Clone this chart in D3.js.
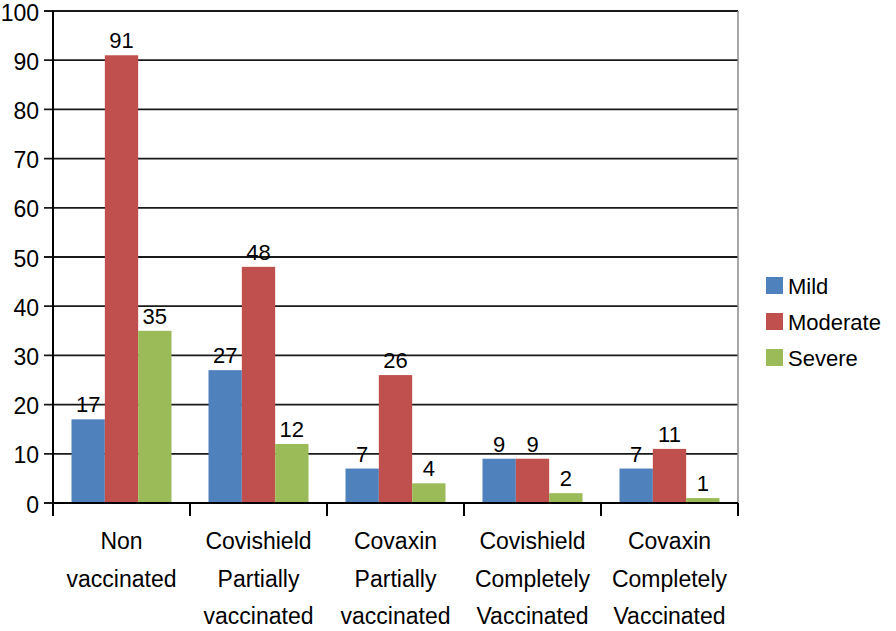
<!DOCTYPE html>
<html><head><meta charset="utf-8">
<script src="https://cdn.jsdelivr.net/npm/d3@7/dist/d3.min.js"></script>
<style>body{margin:0;background:#fff}svg{display:block}text{font-family:"Liberation Sans",Arial,sans-serif;fill:#000}</style>
</head><body><svg id="c" width="896" height="631"></svg>
<script>
const categories = [["Non","vaccinated"],["Covishield","Partially","vaccinated"],["Covaxin","Partially","vaccinated"],["Covishield","Completely","Vaccinated"],["Covaxin","Completely","Vaccinated"]];
const seriesNames = ["Mild","Moderate","Severe"];
const mild = [17,27,7,9,7];
const moderate = [91,48,26,9,11];
const severe = [35,12,4,2,1];
const colors = ["#4F81BD","#C0504D","#9BBB59"];
const yTicks = [0,10,20,30,40,50,60,70,80,90,100];

const svg = d3.select("#c");
const L = 53, R = 738, T = 11, B = 503;
const x = d3.scaleBand().domain(d3.range(categories.length)).range([L,R]).paddingInner(0.27).paddingOuter(0.135);
const xs = d3.scaleBand().domain(d3.range(3)).range([0,x.bandwidth()]);
const y = d3.scaleLinear().domain([0,100]).range([B,T]);
const step = (R-L)/categories.length;

// gridlines
svg.append("g").selectAll("line").data(yTicks).join("line")
  .attr("x1",L-9).attr("x2",R).attr("y1",d=>y(d)).attr("y2",d=>y(d))
  .attr("stroke","#1a1a1a").attr("stroke-width",1.8);
// right border
svg.append("line").attr("x1",R).attr("x2",R).attr("y1",T).attr("y2",B).attr("stroke","#8a8a8a").attr("stroke-width",1.5);

const data = [mild,moderate,severe];
data.forEach((s,si)=>{
  svg.append("g").selectAll("rect").data(s).join("rect")
    .attr("x",(d,i)=>x(i)+xs(si)).attr("width",xs.bandwidth())
    .attr("y",d=>y(d)).attr("height",d=>B-y(d)).attr("fill",colors[si]);
  svg.append("g").selectAll("text").data(s).join("text")
    .attr("x",(d,i)=>x(i)+xs(si)+xs.bandwidth()/2).attr("y",d=>y(d)-7)
    .attr("text-anchor","middle").attr("font-size",22).text(d=>d);
});

// y axis
svg.append("line").attr("x1",L).attr("x2",L).attr("y1",T).attr("y2",B).attr("stroke","#000").attr("stroke-width",2);
svg.append("g").selectAll("text").data(yTicks).join("text")
  .attr("x",39).attr("y",d=>y(d)+9.5).attr("text-anchor","end").attr("font-size",23).text(d=>d);
// x axis
svg.append("line").attr("x1",L).attr("x2",R).attr("y1",B).attr("y2",B).attr("stroke","#000").attr("stroke-width",2);
svg.append("g").selectAll("line").data(d3.range(categories.length+1)).join("line")
  .attr("x1",d=>L+d*step).attr("x2",d=>L+d*step).attr("y1",B).attr("y2",B+13).attr("stroke","#000").attr("stroke-width",2);
const cl = svg.append("g").selectAll("text").data(categories).join("text")
  .attr("text-anchor","middle").attr("font-size",23);
cl.each(function(lines,i){
  d3.select(this).selectAll("tspan").data(lines).join("tspan")
    .attr("x",x(i)+x.bandwidth()/2).attr("y",(d,j)=>549+j*37.5).text(d=>d);
});

// legend
const lg = svg.append("g").selectAll("g").data(seriesNames).join("g")
  .attr("transform",(d,i)=>`translate(766,${277+i*36})`);
lg.append("rect").attr("width",17).attr("height",17).attr("fill",(d,i)=>colors[i]);
lg.append("text").attr("x",22).attr("y",17).attr("font-size",22).text(d=>d);
</script></body></html>
